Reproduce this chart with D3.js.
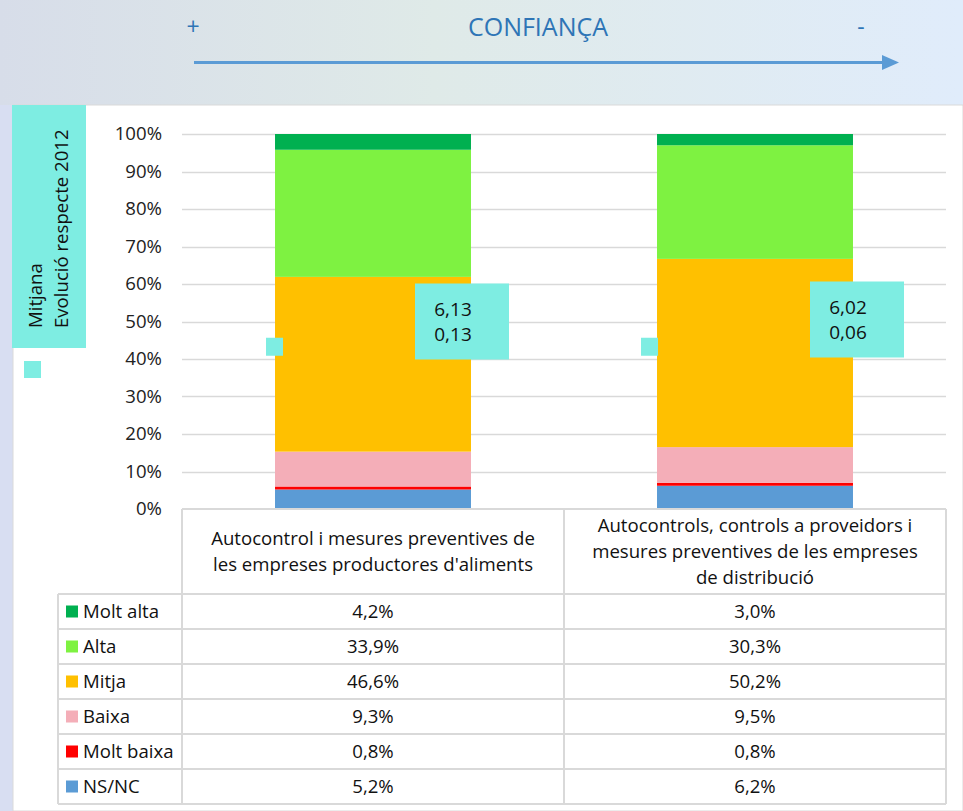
<!DOCTYPE html>
<html>
<head>
<meta charset="utf-8">
<script src="https://cdn.jsdelivr.net/npm/d3@7/dist/d3.min.js"></script>
<style>
  html, body { margin: 0; padding: 0; background: #fff; }
  svg { display: block; font-family: "Open Sans", "Noto Sans", sans-serif; }
</style>
</head>
<body>
<svg id="chart" width="963" height="811"></svg>
<script>
// Confidence levels, stacked from the bottom up
const categories = [
  "Autocontrol i mesures preventives de les empreses productores d'aliments",
  "Autocontrols, controls a proveidors i mesures preventives de les empreses de distribució"
];
const categoryLines = [
  ["Autocontrol i mesures preventives de", "les empreses productores d'aliments"],
  ["Autocontrols, controls a proveidors i", "mesures preventives de les empreses", "de distribució"]
];
const seriesNames = ["NS/NC", "Molt baixa", "Baixa", "Mitja", "Alta", "Molt alta"];
const seriesColors = ["#5b9bd5", "#ff0000", "#f4aeb8", "#ffc000", "#7ef241", "#00b050"];
const nsnc      = [5.2, 6.2];
const moltBaixa = [0.8, 0.8];
const baixa     = [9.3, 9.5];
const mitja     = [46.6, 50.2];
const alta      = [33.9, 30.3];
const moltAlta  = [4.2, 3.0];
const mitjana   = ["6,13", "6,02"];
const evolucio  = ["0,13", "0,06"];
const yTicks = [0, 10, 20, 30, 40, 50, 60, 70, 80, 90, 100];
// table rows listed top to bottom
const tableOrder = ["Molt alta", "Alta", "Mitja", "Baixa", "Molt baixa", "NS/NC"];

const seriesValues = [nsnc, moltBaixa, baixa, mitja, alta, moltAlta];

// hand-placed label boxes: offsets from each bar's centre / left edge
const boxDx = [42, 55], boxDy = [-38, -40];
const keyDx = [-9, -16];

const FS = 18.6;   // body text size

const svg = d3.select("#chart");
const W = 963, H = 811;

// page backdrop
const defs = svg.append("defs");
const grad = defs.append("linearGradient").attr("id", "bg").attr("x1", "0").attr("x2", "1").attr("y1", "0").attr("y2", "0");
grad.append("stop").attr("offset", "0").attr("stop-color", "#d7dde9");
grad.append("stop").attr("offset", "0.45").attr("stop-color", "#dfeae8");
grad.append("stop").attr("offset", "1").attr("stop-color", "#e0ecfb");
svg.append("rect").attr("width", W).attr("height", H).attr("fill", "url(#bg)");
svg.append("rect").attr("x", 0).attr("y", 105).attr("width", 13).attr("height", H - 105).attr("fill", "#d8def2");
svg.append("rect").attr("x", 13).attr("y", 105).attr("width", W - 13).attr("height", H - 105)
  .attr("fill", "#fff").attr("stroke", "#d9d9d9").attr("stroke-width", 1);

// confidence arrow header
const blue = "#2e75b6";
svg.append("text").attr("x", 193).attr("y", 35).attr("text-anchor", "middle")
  .attr("fill", blue).attr("font-size", 23).text("+");
svg.append("text").attr("x", 538).attr("y", 36).attr("text-anchor", "middle")
  .attr("fill", blue).attr("font-size", 25).text("CONFIANÇA");
svg.append("text").attr("x", 861).attr("y", 35).attr("text-anchor", "middle")
  .attr("fill", blue).attr("font-size", 23).text("-");
svg.append("line").attr("x1", 194).attr("x2", 884).attr("y1", 62.5).attr("y2", 62.5)
  .attr("stroke", "#5b9bd5").attr("stroke-width", 3);
svg.append("path").attr("d", "M882,55 L899,62.5 L882,70 Z").attr("fill", "#5b9bd5");

// side legend box for the mean / evolution labels
const teal = "#7eede2";
svg.append("rect").attr("x", 12).attr("y", 105).attr("width", 74).attr("height", 243).attr("fill", teal);
const sideT = svg.append("text").attr("transform", "translate(42,328) rotate(-90)")
  .attr("font-size", FS).attr("fill", "#111");
sideT.append("tspan").attr("x", 0).attr("dy", 0).text("Mitjana");
sideT.append("tspan").attr("x", 0).attr("dy", 26).text("Evolució respecte 2012");
svg.append("rect").attr("x", 24).attr("y", 361).attr("width", 17).attr("height", 17).attr("fill", teal);

// scales
const x = d3.scaleBand().domain(categories).range([182, 946]).paddingInner(0).paddingOuter(0);
const y = d3.scaleLinear().domain([0, 100]).range([509, 134]);
const barW = x.bandwidth() * 0.513;

// gridlines + y axis labels
const yAxis = d3.axisLeft(y).tickValues(yTicks).tickFormat(d => d + "%").tickSize(0).tickPadding(20);
const gy = svg.append("g").attr("transform", "translate(182,0)").call(yAxis);
gy.select(".domain").remove();
gy.selectAll("text").attr("font-size", FS).attr("fill", "#222").attr("font-family", "'Open Sans', 'Noto Sans', sans-serif");
svg.append("g").selectAll("line").data(yTicks.filter(t => t > 0)).join("line")
  .attr("x1", 182).attr("x2", 946)
  .attr("y1", d => Math.round(y(d)) + 0.5).attr("y2", d => Math.round(y(d)) + 0.5)
  .attr("stroke", "#d9d9d9").attr("stroke-width", 1.5);

// stacked bars
const rows = categories.map((c, i) => {
  const r = { cat: c };
  seriesNames.forEach((s, k) => r[s] = seriesValues[k][i]);
  return r;
});
const stack = d3.stack().keys(seriesNames)(rows);
const color = d3.scaleOrdinal().domain(seriesNames).range(seriesColors);
svg.append("g").selectAll("g").data(stack).join("g")
  .attr("fill", d => color(d.key))
  .selectAll("rect").data(d => d).join("rect")
  .attr("x", d => x(d.data.cat) + (x.bandwidth() - barW) / 2)
  .attr("width", barW)
  .attr("y", d => y(d[1]))
  .attr("height", d => y(d[0]) - y(d[1]));

// mean / evolution label boxes
categories.forEach((c, i) => {
  const cx = x(c) + x.bandwidth() / 2;
  const bx = cx + boxDx[i], by = y(50) + boxDy[i];
  const g = svg.append("g");
  g.append("rect").attr("x", bx).attr("y", by).attr("width", 94).attr("height", 76).attr("fill", teal);
  g.append("text").attr("x", bx + 38).attr("y", by + 32).attr("text-anchor", "middle")
    .attr("font-size", 19).attr("fill", "#111").text(mitjana[i]);
  g.append("text").attr("x", bx + 38).attr("y", by + 57).attr("text-anchor", "middle")
    .attr("font-size", 19).attr("fill", "#111").text(evolucio[i]);
  g.append("rect").attr("x", cx - barW / 2 + keyDx[i]).attr("y", y(43) - 10).attr("width", 17).attr("height", 18).attr("fill", teal);
});

// data table below the plot
const tblTop = 509, headH = 85, rowH = 35, legX = 58;
const tblBottom = tblTop + headH + rowH * tableOrder.length;
const grid = svg.append("g").attr("stroke", "#d9d9d9").attr("stroke-width", 2).attr("fill", "none");
grid.append("line").attr("x1", 182).attr("x2", 946).attr("y1", tblTop).attr("y2", tblTop);
[182, x(categories[1]), 946].forEach(xx => {
  grid.append("line").attr("x1", xx).attr("x2", xx).attr("y1", tblTop).attr("y2", tblBottom);
});
grid.append("line").attr("x1", legX).attr("x2", legX).attr("y1", tblTop + headH).attr("y2", tblBottom);
for (let r = 0; r <= tableOrder.length; r++) {
  const yy = tblTop + headH + r * rowH;
  grid.append("line").attr("x1", legX).attr("x2", 946).attr("y1", yy).attr("y2", yy);
}

// category headers
categories.forEach((c, i) => {
  const cx = x(c) + x.bandwidth() / 2;
  const lines = categoryLines[i];
  const lh = 26;
  const y0 = tblTop + headH / 2 - (lines.length - 1) * lh / 2 + 6;
  lines.forEach((ln, j) => {
    svg.append("text").attr("x", cx).attr("y", y0 + j * lh).attr("text-anchor", "middle")
      .attr("font-size", FS).attr("fill", "#111").text(ln);
  });
});

// table rows with legend keys
const fmt = v => v.toFixed(1).replace(".", ",") + "%";
tableOrder.forEach((name, r) => {
  const k = seriesNames.indexOf(name);
  const cy = tblTop + headH + r * rowH + rowH / 2;
  svg.append("rect").attr("x", 66).attr("y", cy - 6).attr("width", 12).attr("height", 12).attr("fill", seriesColors[k]);
  svg.append("text").attr("x", 83).attr("y", cy + 6).attr("font-size", FS).attr("fill", "#111").text(name);
  categories.forEach((c, i) => {
    svg.append("text").attr("x", x(c) + x.bandwidth() / 2).attr("y", cy + 6).attr("text-anchor", "middle")
      .attr("font-size", FS).attr("fill", "#111").text(fmt(seriesValues[k][i]));
  });
});
</script>
</body>
</html>
